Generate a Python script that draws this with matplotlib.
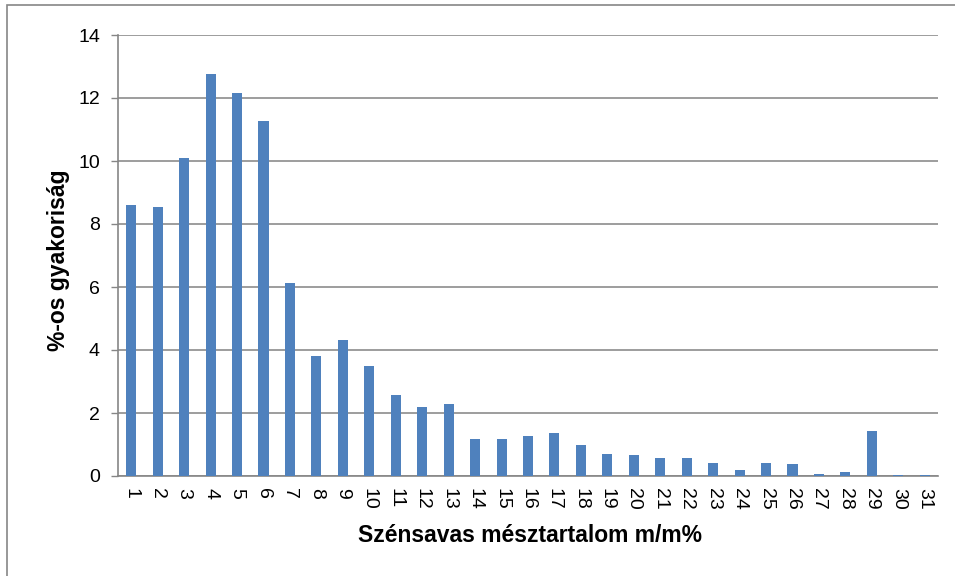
import matplotlib
matplotlib.use("Agg")
import matplotlib.pyplot as plt
from matplotlib.patches import Rectangle

plt.rcParams['font.family'] = ['Liberation Sans', 'DejaVu Sans']

categories = [str(i) for i in range(1, 32)]
values = [8.60, 8.53, 10.11, 12.75, 12.15, 11.27, 6.14, 3.81, 4.32, 3.49,
          2.56, 2.20, 2.28, 1.18, 1.18, 1.26, 1.35, 0.97, 0.70, 0.66,
          0.58, 0.58, 0.41, 0.20, 0.41, 0.38, 0.06, 0.13, 1.43, 0.03, 0.03]
yticks = [0, 2, 4, 6, 8, 10, 12, 14]
xlabel = "Szénsavas mésztartalom m/m%"
ylabel = "%-os gyakoriság"

fig = plt.figure(figsize=(9.55, 5.76), dpi=100)
fig.patch.set_facecolor('white')
# chart area border
fig.patches.append(Rectangle((7 / 955, -0.1), 1.2, 1 - 5 / 576 + 0.1, transform=fig.transFigure,
                             fill=False, edgecolor='#868686', linewidth=1.2, zorder=0))

ax = fig.add_axes([118 / 955, 100 / 576, 820 / 955, 441 / 576])
x = list(range(1, 32))
ax.bar(x, values, width=0.38, color='#4F81BD', zorder=3)
ax.set_xlim(0.5, 31.5)
ax.set_ylim(0, 14)
ax.set_yticks(yticks)
ax.set_yticklabels([str(t) for t in yticks], fontsize=14)
ax.set_xticks(x)
ax.set_xticklabels(categories, rotation=270, fontsize=14)
ax.tick_params(axis='x', length=0, pad=9)
ax.tick_params(axis='y', length=5, width=1, color='#868686', pad=8)
ax.yaxis.grid(True, color='#8c8c8c', linewidth=1.2, zorder=0)
ax.set_axisbelow(True)
for s in ['top', 'right']:
    ax.spines[s].set_visible(False)
for s in ['left', 'bottom']:
    ax.spines[s].set_color('#868686')
    ax.spines[s].set_linewidth(1.2)

fig.text(530 / 955, 1 - 536 / 576, xlabel, ha='center', va='center', fontsize=16.5, fontweight='bold')
fig.text(58 / 955, 1 - 260 / 576, ylabel, ha='center', va='center', rotation=90, fontsize=16.5, fontweight='bold')

fig.savefig('out.png', dpi=100)
